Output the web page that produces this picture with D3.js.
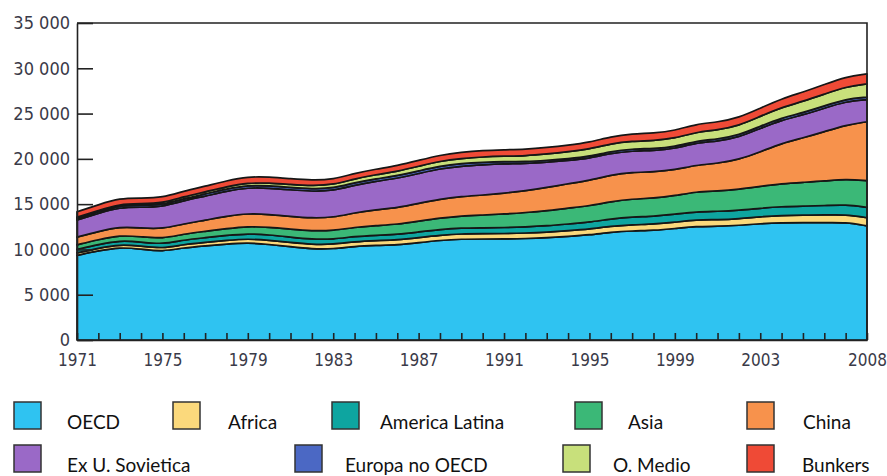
<!DOCTYPE html>
<html lang="es">
<head>
  <meta charset="UTF-8">
  <title>Emisiones por region 1971-2008</title>
  <script src="https://d3js.org/d3.v7.min.js"></script>
</head>
<style>
  body{
    margin:0;
    background:#fff;
  }
  /* tick labels use a condensed face like the original */
  .axis text{
    font-family:"DejaVu Sans Condensed","DejaVu Sans",sans-serif;
    font-stretch:condensed;
    font-size:18px;
    fill:#3a3a48;
  }
  .axis path, .axis line{
    stroke:#222;
    stroke-width:1.6;
  }
  .legend text{
    font-family:Lato,"Open Sans",sans-serif;
    font-size:19px;
    fill:#111;
  }
</style>
<body>
<div id="chart"></div>
<script>
// categories
var years = [1971,1972,1973,1974,1975,1976,1977,1978,1979,1980,1981,1982,1983,1984,1985,1986,1987,1988,1989,
             1990,1991,1992,1993,1994,1995,1996,1997,1998,1999,2000,2001,2002,2003,2004,2005,2006,2007,2008];
var labelYears = [1971,1975,1979,1983,1987,1991,1995,1999,2003,2008];
var yTicks = [0,5000,10000,15000,20000,25000,30000,35000];

// series values (stacked from bottom to top)
var oecd     = [9350,9850,10250,10050,9750,10200,10400,10600,10750,10550,10300,10050,10050,10350,10450,10500,10750,11000,11150,
                11150,11150,11200,11300,11450,11600,11900,12050,12100,12300,12550,12550,12650,12850,12950,12950,12950,13000,12600];
var africa   = [270,290,310,320,340,360,380,400,430,460,480,500,510,520,540,550,560,570,580,
                590,600,610,610,620,640,660,680,690,700,720,730,740,770,810,840,850,870,900];
var latam    = [390,410,440,460,470,500,520,550,580,600,580,570,560,570,580,600,620,630,640,
                640,660,680,700,740,770,810,850,870,880,900,920,920,930,970,1000,1040,1080,1150];
var asia     = [500,530,570,580,620,660,700,750,800,840,880,920,960,1010,1070,1120,1190,1270,1340,
                1420,1500,1580,1660,1760,1800,1900,2000,2000,2050,2200,2250,2330,2420,2540,2620,2700,2840,2950];
var china    = [850,900,940,960,1080,1120,1230,1380,1420,1420,1400,1420,1450,1600,1740,1830,1960,2100,2140,
                2200,2300,2400,2560,2700,2800,2950,2950,2900,2850,2960,3050,3300,3800,4450,4900,5450,5950,6500];
var exUrss   = [1900,2000,2150,2300,2450,2550,2650,2750,2850,2900,2950,2950,2950,3050,3150,3250,3300,3350,3350,
                3350,3250,3000,2800,2550,2450,2400,2350,2350,2350,2450,2450,2450,2600,2550,2550,2600,2600,2450];
var europa   = [180,190,200,210,220,230,240,250,260,270,270,270,270,280,280,290,290,290,290,
                280,240,220,210,200,210,220,220,220,210,220,230,230,240,250,250,260,270,270];
var oMedio   = [120,140,160,170,180,210,230,250,270,300,320,350,390,420,450,480,510,540,560,
                590,600,650,700,760,800,830,860,890,920,960,1000,1040,1090,1160,1240,1300,1350,1450];
var bunkers  = [600,620,650,610,600,610,630,650,680,660,630,600,590,600,610,630,650,670,690,
                710,700,720,720,730,760,780,810,820,850,890,870,880,900,960,1010,1050,1100,1110];

var seriesNames = ["OECD","Africa","America Latina","Asia","China","Ex U. Sovietica","Europa no OECD","O. Medio","Bunkers"];
var seriesData  = [oecd, africa, latam, asia, china, exUrss, europa, oMedio, bunkers];
var colours = ["#2fc3f1","#fbd97c","#0ea5a0","#3bb877","#f7924c","#9a69c7","#4b68c4","#c8e07b","#ef4a36"];

// build rows for d3.stack
var rows = years.map(function(yr, i){
  var r = {year: yr};
  seriesNames.forEach(function(n, j){ r[n] = seriesData[j][i]; });
  return r;
});

var width = 887, height = 476;
var plotLeft = 77, plotRight = 867, plotTop = 23, plotBottom = 340;

var svg = d3.select("#chart").append("svg")
  .attr("width", width)
  .attr("height", height);

var xScale = d3.scaleLinear().domain([1971, 2008]).range([plotLeft, plotRight]);
var yScale = d3.scaleLinear().domain([0, 35000]).range([plotBottom, plotTop]);

var stacked = d3.stack().keys(seriesNames)(rows);

// smooth curves like the original
var area = d3.area()
  .x(function(d){ return xScale(d.data.year); })
  .y0(function(d){ return yScale(d[0]); })
  .y1(function(d){ return yScale(d[1]); })
  .curve(d3.curveBasis);

// the areas, each outlined in black
svg.append("g").selectAll("path")
  .data(stacked)
  .enter()
  .append("path")
    .attr("d", area)
    .attr("fill", function(d, i){ return colours[i]; })
    .attr("stroke", "#161616")
    .attr("stroke-width", 1.7)
    .attr("stroke-linejoin", "round");

// frame: top and right border
svg.append("path")
  .attr("d", "M" + plotLeft + "," + plotTop + "H" + plotRight + "V" + plotBottom)
  .attr("fill", "none")
  .attr("stroke", "#222")
  .attr("stroke-width", 1.6);

// y axis with ticks pointing into the plot
var fmt = function(d){ return d3.format(",")(d).replace(",", " "); };
svg.append("g")
  .attr("class", "axis")
  .attr("transform", "translate(" + plotLeft + ",0)")
  .call(d3.axisLeft(yScale).tickValues(yTicks).tickFormat(fmt).tickSizeInner(-16).tickSizeOuter(0).tickPadding(7));

// x axis, a small tick each year, labels every four years
svg.append("g")
  .attr("class", "axis")
  .attr("transform", "translate(0," + plotBottom + ")")
  .call(d3.axisBottom(xScale).tickValues(years)
    .tickFormat(function(d){ return labelYears.indexOf(d) >= 0 ? d : ""; })
    .tickSizeInner(-7).tickSizeOuter(0).tickPadding(14))
  .selectAll("text")
    .style("font-size", "17px");

// legend, two rows
var legendX = [[14,173,332,575,747],[14,295,563,747]];
var legendTextX = [[67,228,380,628,803],[67,345,613,802]];
var legendY = [402,445];
var legend = svg.append("g").attr("class", "legend");
seriesNames.forEach(function(n, i){
  var row = i < 5 ? 0 : 1;
  var col = i < 5 ? i : i - 5;
  legend.append("rect")
    .attr("x", legendX[row][col])
    .attr("y", legendY[row])
    .attr("width", 27)
    .attr("height", 27)
    .attr("fill", colours[i])
    .attr("stroke", "#333")
    .attr("stroke-width", 1.5);
  legend.append("text")
    .attr("x", legendTextX[row][col])
    .attr("y", legendY[row] + 27)
    .text(n);
});
</script>
</body>
</html>
